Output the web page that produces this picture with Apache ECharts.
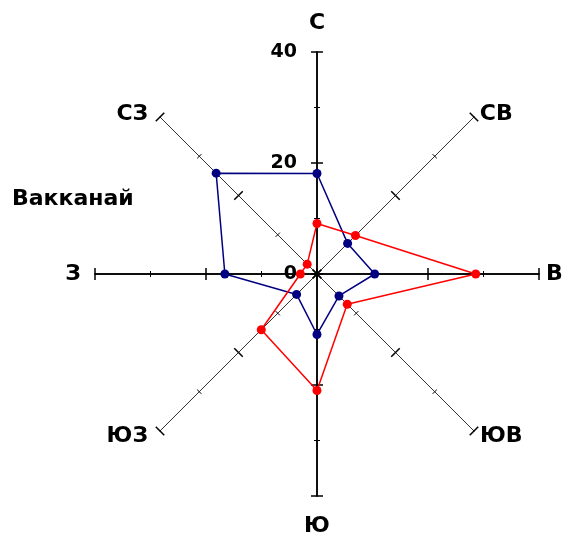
<!DOCTYPE html>
<html>
<head>
<meta charset="utf-8">
<script src="https://cdn.jsdelivr.net/npm/echarts@6/dist/echarts.min.js"></script>
<style>
    html, body { margin: 0; padding: 0; background: #fff; }
    #main { width: 564px; height: 537px; }
</style>
</head>
<body>
<div id="main"></div>
<script>
// румбы против часовой стрелки начиная с севера (в таком порядке их раскладывает radar)
var directions = ['С', 'СЗ', 'З', 'ЮЗ', 'Ю', 'ЮВ', 'В', 'СВ'];
var blueValues = [18.1, 25.7, 16.6, 5.2, 10.9, 5.6, 10.4, 7.8];
var redValues = [9.1, 2.5, 3.0, 14.2, 21.0, 7.7, 28.6, 9.8];
var radiusLabels = [0, 20, 40];
var axisMax = 40;
var stationName = 'Вакканай';

var FONT = 'DejaVu Sans';

//отступ подписи румба: [nameGap, padding]
function namePlace(i) {
    if (i === 0) return [18, 0];                        //С
    if (i === 4) return [19, 0];                        //Ю
    if (i === 2) return [14, 0];                        //З
    if (i === 6) return [7, 0];                         //В
    if (i === 1) return [4, [0, 9, 0, 0]];              //СЗ
    if (i === 3) return [7, [0, 7, 0, 0]];              //ЮЗ
    if (i === 5) return [7, [0, 0, 0, 1]];              //ЮВ
    return [4, [0, 0, 0, 3]];                           //СВ
}

//индикаторы для одного radar; sign = сторона засечек
function buildIndicators(main, sign) {
    return directions.map(function (d, i) {
        var straight = i % 2 === 0;      //С, З, Ю, В
        var place = namePlace(i);
        return {
            name: d,
            min: 0,
            max: axisMax,
            nameGap: place[0],
            nameTextStyle: { padding: place[1] },
            axisLine: {
                lineStyle: { color: straight ? '#000' : '#333', width: straight ? 1.5 : 1 }
            },
            axisLabel: { show: main && i === 0 },
            minorTick: {
                show: true,
                splitNumber: 2,
                length: 3 * sign,
                lineStyle: { color: '#000', width: 1 }
            }
        };
    });
}

function makeRadar(main, sign) {
    return {
        center: [317, 274],
        radius: 222,
        startAngle: 90,
        shape: 'polygon',
        splitNumber: 2,
        indicator: buildIndicators(main, sign),
        axisName: {
            show: main,
            color: '#000',
            fontFamily: FONT,
            fontWeight: 'bold',
            fontSize: 22
        },
        axisLine: { show: true, lineStyle: { color: '#000' } },
        axisTick: { show: true, length: 6 * sign, lineStyle: { color: '#000', width: 1.5 } },
        axisLabel: {
            show: false,
            margin: 20,
            color: '#000',
            fontFamily: FONT,
            fontWeight: 'bold',
            fontSize: 19,
            formatter: function (v) {
                return radiusLabels.indexOf(v) >= 0 ? String(v) : '';
            }
        },
        splitLine: { show: false },
        splitArea: { show: false }
    };
}

var option = {
    animation: false,
    backgroundColor: '#fff',
    title: {
        text: stationName,
        left: 12,
        top: 188,
        padding: 0,
        textStyle: { fontFamily: FONT, fontWeight: 'bold', fontSize: 22, color: '#000' }
    },
    radar: [makeRadar(true, 1), makeRadar(false, -1)],
    series: [{
        type: 'radar',
        radarIndex: 0,
        symbol: 'circle',
        symbolSize: 9,
        data: [
            {
                name: 'Ряд 1',
                value: blueValues,
                lineStyle: { color: '#000080', width: 1.5 },
                itemStyle: { color: '#000080' }
            },
            {
                name: 'Ряд 2',
                value: redValues,
                lineStyle: { color: '#ff0000', width: 1.5 },
                itemStyle: { color: '#ff0000' }
            }
        ]
    }]
};

echarts.init(document.getElementById('main')).setOption(option);
</script>
</body>
</html>
